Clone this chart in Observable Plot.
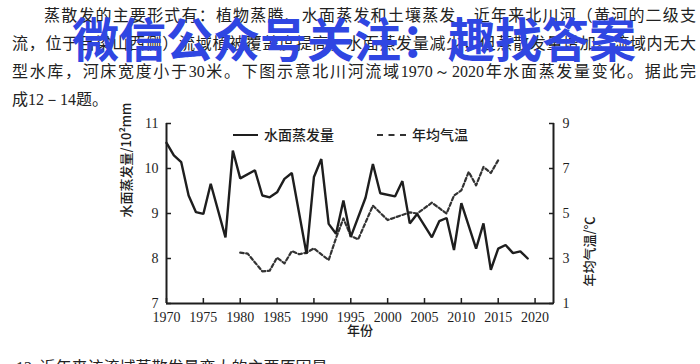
<!DOCTYPE html>
<html>
<head>
<meta charset="utf-8">
<script src="https://cdn.jsdelivr.net/npm/d3@7"></script>
<script src="https://cdn.jsdelivr.net/npm/@observablehq/plot@0.6"></script>
<style>
  html, body { margin: 0; padding: 0; background: #fff; }
  #page { position: relative; width: 700px; height: 364px; overflow: hidden; background: #fff;
          font-family: "Noto Sans CJK SC", "Noto Sans", sans-serif; color: #222; }
  .ln { position: absolute; font-size: 16px; line-height: 20px; white-space: nowrap; }
  .j { text-align: justify; text-align-last: justify; white-space: normal; }
  .num { font-family: "Liberation Serif", serif; }
  #chart { position: absolute; left: 0; top: 110px; }
  #wm { position: absolute; left: 72px; top: 12px; font-size: 47px; line-height: 50px; font-weight: 700;
        color: #2f46e2; white-space: nowrap; }
  .leg { position: absolute; font-size: 14px; line-height: 16px; font-weight: 500; color: #1e1e1e; white-space: nowrap; }
  .legline { position: absolute; height: 0; }
</style>
</head>
<body>
<div id="page">
  <div class="ln j" style="left:44px; top:4px; width:652px;">蒸散发的主要形式有：植物蒸腾、水面蒸发和土壤蒸发。近年来北川河（黄河的二级支</div>
  <div class="ln j" style="left:12px; top:32px; width:684px;">流，位于吕梁山西侧）流域植被覆盖度提高，水面蒸发量减少，但蒸散发量增加。流域内无大</div>
  <div class="ln j" style="left:12px; top:60px; width:684px;">型水库，河床宽度小于<span class="num">30</span>米。下图示意北川河流域<span class="num">1970～2020</span>年水面蒸发量变化。据此完</div>
  <div class="ln" style="left:12px; top:88px;">成<span class="num">12－14</span>题。</div>
  <div class="ln" style="left:16px; top:356px;"><span class="num">12.</span> 近年来该流域蒸散发量变大的主要原因是</div>
  <div id="wm">微信公众号关注：趣找答案</div>
  <div id="chart"></div>
  <div class="legline" style="left:233px; top:134px; width:25px; border-top:2px solid #1e1e1e;"></div>
  <div class="leg" style="left:264px; top:126px;">水面蒸发量</div>
  <div class="legline" style="left:377px; top:134px; width:29px; border-top:2px dashed #333;"></div>
  <div class="leg" style="left:412px; top:126px;">年均气温</div>
</div>
<script>
// Water-surface evaporation (10^2 mm)
const evapYears  = [1970,1971,1972,1973,1974,1975,1976,1978,1979,1980,1982,1983,1984,1985,1986,1987,1989,1990,1991,1992,1993,1994,1995,1997,1998,1999,2001,2002,2003,2004,2006,2007,2008,2009,2010,2012,2013,2014,2015,2016,2017,2018,2019];
const evapValues = [10.57,10.29,10.14,9.40,9.03,8.99,9.66,8.47,10.40,9.78,9.96,9.40,9.36,9.47,9.77,9.90,8.10,9.81,10.21,8.77,8.55,9.29,8.48,9.35,10.10,9.45,9.38,9.72,8.78,8.99,8.47,8.83,8.90,8.19,9.23,8.22,8.78,7.75,8.22,8.30,8.12,8.16,8.00];
// Annual mean temperature (°C)
const tempYears  = [1980,1981,1983,1984,1985,1986,1987,1988,1989,1990,1992,1993,1994,1995,1996,1998,2000,2003,2004,2006,2008,2009,2010,2011,2012,2013,2014,2015];
const tempValues = [3.26,3.22,2.43,2.46,3.04,2.78,3.33,3.19,3.26,3.45,2.93,3.91,4.78,4.00,3.85,5.35,4.71,5.05,5.00,5.48,5.00,5.80,6.03,6.85,6.25,7.07,6.80,7.37];

const xTicks = [1970,1975,1980,1985,1990,1995,2000,2005,2010,2015,2020];
const xDomain = [1970, 2022.5];
const leftTicks = [7,8,9,10,11];
const rightTicks = [1,3,5,7,9];
const leftDomain = [7, 11];
const rightDomain = [1, 9];
const leftTitle = "水面蒸发量/10²mm";
const rightTitle = "年均气温/℃";
const xTitle = "年份";

const evap = evapYears.map((y, i) => ({year: y, value: evapValues[i]}));
const temp = tempYears.map((y, i) => ({year: y, value: tempValues[i]}));
// map right-axis temperature onto the left scale
const toLeft = t => leftDomain[0] + (t - rightDomain[0]) * (leftDomain[1] - leftDomain[0]) / (rightDomain[1] - rightDomain[0]);

const ink = "#1e1e1e";
const chart = Plot.plot({
  width: 700,
  height: 240,
  marginTop: 13,
  marginBottom: 47,
  marginLeft: 166,
  marginRight: 147,
  style: { fontFamily: "'Liberation Serif', serif", fontSize: "14px", color: ink, background: "transparent", overflow: "visible" },
  x: { domain: xDomain },
  y: { domain: leftDomain },
  marks: [
    Plot.ruleY([leftDomain[0]], { stroke: ink, strokeWidth: 2 }),
    Plot.ruleX([xDomain[0]], { stroke: ink, strokeWidth: 2 }),
    Plot.ruleX([xDomain[1]], { stroke: ink, strokeWidth: 2 }),
    Plot.axisY(leftTicks, { anchor: "left", tickSize: -5, tickPadding: 13, label: null, stroke: ink, strokeWidth: 1.5, fill: ink }),
    Plot.axisY(leftTicks, { anchor: "right", tickSize: -5, tickPadding: 14, label: null, stroke: ink, strokeWidth: 1.5, fill: ink,
      tickFormat: d => String(rightTicks[leftTicks.indexOf(d)]) }),
    Plot.axisX(xTicks, { anchor: "bottom", tickSize: -5, tickPadding: 14, label: null, stroke: ink, strokeWidth: 1.5, fill: ink,
      tickFormat: d => String(d) }),
    Plot.line(temp, { x: "year", y: d => toLeft(d.value), stroke: "#333", strokeWidth: 2.2, strokeDasharray: "3.5,2.5" }),
    Plot.line(evap, { x: "year", y: "value", stroke: ink, strokeWidth: 2.4, strokeLinejoin: "miter" }),
    Plot.text([leftTitle], { text: d => d, frameAnchor: "left", rotate: -90, dx: -40, dy: 4, fontSize: 13, fill: ink,
      fontFamily: "'Noto Sans CJK SC', sans-serif", fontWeight: 500 }),
    Plot.text([rightTitle], { text: d => d, frameAnchor: "right", rotate: -90, dx: 36, dy: 3, fontSize: 13, fill: ink,
      fontFamily: "'Noto Sans CJK SC', sans-serif", fontWeight: 500 }),
    Plot.text([xTitle], { text: d => d, frameAnchor: "bottom", dy: 31, fontSize: 13, fill: ink,
      fontFamily: "'Noto Sans CJK SC', sans-serif", fontWeight: 500 })
  ]
});
document.getElementById("chart").appendChild(chart);
</script>
</body>
</html>
